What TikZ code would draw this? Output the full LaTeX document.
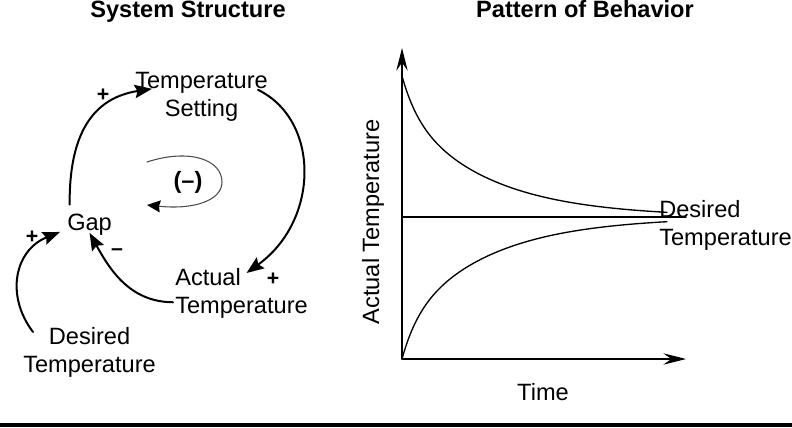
\documentclass[tikz,border=0pt]{standalone}
\usepackage{fontspec}
\setmainfont{Liberation Sans}
\usetikzlibrary{arrows.meta}
\begin{document}
\begin{tikzpicture}[x=0.75pt, y=-0.75pt, line join=round, line cap=round,
	font=\fontsize{17.7}{21}\selectfont,
	>={Stealth[length=13pt,width=10pt,inset=2pt]},
	causal/.style={->, line width=1.5pt},
	sign/.style={font=\fontsize{16}{16}\selectfont\bfseries, inner sep=0pt},
	lbl/.style={inner sep=0pt},
	axis/.style={-{Stealth[length=17pt,width=8.5pt,inset=6pt]}, line width=0.8pt},
	curve/.style={line width=1pt}]
	\useasboundingbox (0,0) rectangle (792,428);
	% titles
	\node[lbl, font=\fontsize{17.7}{21}\selectfont\bfseries, anchor=base] (title1) at (188,18) {System Structure};
	\node[lbl, font=\fontsize{17.7}{21}\selectfont\bfseries, anchor=base] (title2) at (585,18) {Pattern of Behavior};
	% causal loop
	\node[lbl, align=center, anchor=north west] (ts) at (135,72) {Temperature\\Setting};
	\node[lbl, anchor=north west] (gap) at (67,214) {Gap};
	\node[lbl, align=left, anchor=north west] (act) at (175,268) {Actual\\Temperature};
	\node[lbl, align=center, anchor=north west] (des) at (23,327) {Desired\\Temperature};
	\node[lbl, font=\fontsize{17.7}{21}\selectfont\bfseries] (loopsign) at (188,182) {(--)};
	\draw[causal] ([shift={(2pt,7pt)}]gap.north west) .. controls (69,135) and (92,98) .. ([shift={(12.75pt,6pt)}]ts.west);
	\draw[causal] ([shift={(-7.5pt,5.25pt)}]ts.east) .. controls (320,120) and (320,220) .. ([shift={(3.75pt,-3.75pt)}]act.north);
	\draw[causal] ([shift={(-1.5pt,-6.75pt)}]act.west) .. controls (130,302) and (110,270) .. ([yshift=2.25pt]gap.south);
	\draw[causal] ([shift={(7.5pt,-3.75pt)}]des.north west) .. controls (5,295) and (15,250) .. ([shift={(-5.25pt,-5.25pt)}]gap.west);
	\node[sign] (s1) at (103,95) {+};
	\node[sign] (s2) at (273,279) {+};
	\node[sign] (s3) at (117,252) {--};
	\node[sign] (s4) at (32,237) {+};
	\draw[line width=0.8pt, gray!60!black, -{Stealth[length=10pt,width=9pt,inset=1pt,black]}] (147,162) .. controls (190,148) and (222,160) .. (222,182) .. controls (222,200) and (195,210) .. (147,205);
	% behaviour over time
	\coordinate (o) at (402,359);
	\coordinate (ytop) at (402,48);
	\coordinate (xend) at (686,359);
	\coordinate (d0) at (402,217);
	\coordinate (d1) at (686,217);
	\draw[axis] (o) -- (ytop);
	\draw[axis] (o) -- (xend);
	\draw[curve] (d0) -- (d1);
	\draw[curve, samples=120, smooth, domain=0:265] plot ({402+\x},{217-141*(0.25*exp(-\x/15)+0.75*exp(-\x/85))});
	\draw[curve, samples=120, smooth, domain=0:265] plot ({402+\x},{217+142*(0.25*exp(-\x/15)+0.75*exp(-\x/85))});
	\node[lbl, align=left, anchor=north west] (dlabel) at (659,200) {Desired\\Temperature};
	\node[lbl, rotate=90] (ylabel) at (373,222) {Actual Temperature};
	\node[lbl, anchor=base] (xlabel) at (543,400) {Time};
	\draw[line width=2.5pt] (0,425) -- (792,425);
\end{tikzpicture}
\end{document}
